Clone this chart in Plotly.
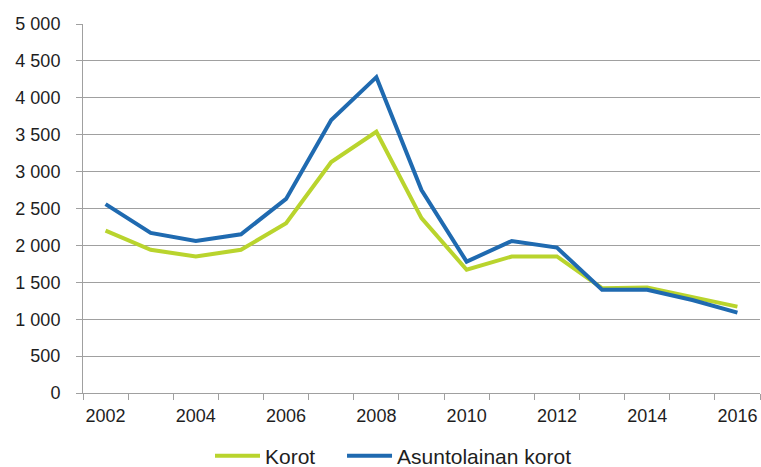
import plotly.graph_objects as go

years = list(range(2002, 2017))
korot = [2200, 1940, 1850, 1940, 2300, 3130, 3540, 2370, 1670, 1850, 1850, 1420, 1430, 1300, 1170]
asuntolainan_korot = [2560, 2170, 2060, 2150, 2630, 3700, 4280, 2750, 1780, 2060, 1970, 1400, 1400, 1260, 1090]
x_tick_labels = [str(y) for y in years[::2]]
y_ticks = list(range(0, 5001, 500))

green = "rgb(185,212,45)"
blue = "rgb(31,106,176)"
grid = "rgb(160,160,160)"
font_family = "Liberation Sans, Arial, sans-serif"

fig = go.Figure()
fig.add_trace(go.Scatter(x=years, y=korot, name="Korot", mode="lines",
                         line=dict(color=green, width=4), legend="legend"))
fig.add_trace(go.Scatter(x=years, y=asuntolainan_korot, name="Asuntolainan korot", mode="lines",
                         line=dict(color=blue, width=4), legend="legend2"))

legend_style = dict(orientation="h", xanchor="left", y=-0.171, yanchor="middle",
                    font=dict(size=21), itemwidth=45, bgcolor="rgba(0,0,0,0)")

fig.update_layout(
    width=761, height=467,
    margin=dict(l=83, r=1, t=24, b=74, autoexpand=False),
    paper_bgcolor="white", plot_bgcolor="white",
    separators=", ",
    font=dict(family=font_family, size=18, color="rgb(30,30,30)"),
    showlegend=True,
    legend=dict(x=0.1876, **legend_style),
    legend2=dict(x=0.3826, **legend_style),
)
fig.update_xaxes(
    range=[2001.5, 2016.5],
    tickvals=years[::2], ticktext=x_tick_labels,
    ticks="", showgrid=False,
    showline=True, linecolor=grid, linewidth=1,
    minor=dict(tickvals=[y - 0.5 for y in years] + [2016.5], ticks="outside",
               ticklen=6, tickcolor=grid, showgrid=False),
    tickfont=dict(size=18), ticklabelstandoff=6,
)
fig.update_yaxes(
    range=[0, 5000], tickvals=y_ticks, tickformat=",d",
    showgrid=True, gridcolor=grid, gridwidth=1,
    showline=True, linecolor=grid, linewidth=1,
    ticks="outside", ticklen=6, tickcolor=grid,
    tickfont=dict(size=18), zeroline=False, ticklabelstandoff=12,
)

fig.write_html("out.html")
